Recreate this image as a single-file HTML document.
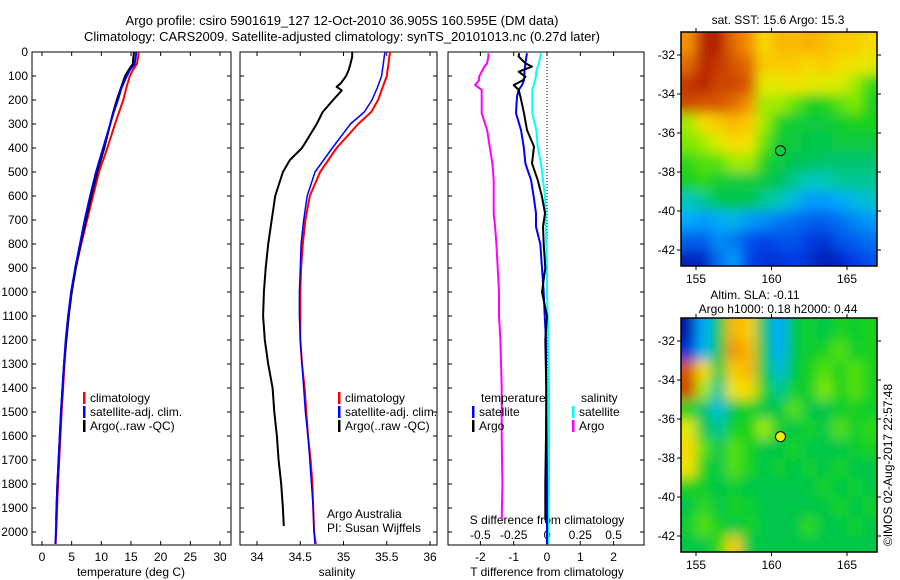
<!DOCTYPE html>
<html><head><meta charset="utf-8"><style>
html,body{margin:0;padding:0;background:#fff}
svg{display:block;font-family:"Liberation Sans",sans-serif;font-size:12px}
</style></head><body>
<svg id="c" width="900" height="580" viewBox="0 0 900 580">
<defs><filter id="bl" x="-0.1" y="-0.1" width="1.2" height="1.2"><feGaussianBlur stdDeviation="6"/></filter>
<clipPath id="cp1"><rect x="681" y="32" width="196" height="234"/></clipPath>
<clipPath id="cp2"><rect x="681" y="318" width="196" height="234"/></clipPath></defs>
<text x="342" y="25" text-anchor="middle" font-size="13">Argo profile: csiro 5901619_127 12-Oct-2010 36.905S 160.595E (DM data)</text>
<text x="342" y="41" text-anchor="middle" font-size="13">Climatology: CARS2009. Satellite-adjusted climatology: synTS_20101013.nc (0.27d later)</text>
</svg>
<script>
// ---- profile data ----
const depths=[0,20,50,75,100,150,200,250,300,400,500,600,700,800,900,1000,1100,1200,1300,1400,1500,1600,1700,1800,1900,2000,2050];
const tempClim=[16.3,16.2,16.0,15.3,14.8,14.2,13.7,13.0,12.3,11.0,9.6,8.6,7.6,6.6,5.7,5.0,4.5,4.1,3.8,3.55,3.3,3.1,2.9,2.7,2.55,2.4,2.3];
const tempSat=[15.9,15.8,15.6,14.8,14.3,13.4,12.8,12.1,11.5,10.3,9.1,8.1,7.2,6.4,5.6,4.9,4.4,4.0,3.7,3.45,3.2,3.0,2.8,2.6,2.45,2.35,2.25];
const argoTDepths=[0,20,50,75,100,150,200,250,300,400,500,600,700,800,900,1000,1100,1200,1300,1400,1500,1600,1700,1800,1900,1950];
const tempArgo=[15.5,15.4,15.3,14.6,14.0,13.3,12.6,12.0,11.5,10.5,9.3,8.3,7.4,6.5,5.7,5.0,4.5,4.1,3.7,3.45,3.2,3.0,2.8,2.6,2.45,2.4];
const salClim=[35.54,35.53,35.52,35.51,35.5,35.45,35.4,35.32,35.17,34.92,34.73,34.61,34.56,34.53,34.51,34.5,34.5,34.5,34.52,34.55,34.57,34.59,34.62,34.64,34.65,34.66,34.68];
const salSat=[35.48,35.47,35.46,35.45,35.44,35.39,35.33,35.24,35.08,34.87,34.67,34.58,34.54,34.51,34.5,34.49,34.49,34.5,34.52,34.54,34.56,34.59,34.61,34.63,34.65,34.66,34.67];
const argoSDepths=[0,20,50,75,100,130,145,160,200,250,300,400,450,500,600,700,800,900,1000,1100,1200,1300,1400,1500,1600,1700,1800,1900,1975];
const salArgo=[35.1,35.1,35.08,35.06,35.03,34.97,34.92,34.98,34.88,34.76,34.69,34.52,34.38,34.3,34.21,34.17,34.13,34.1,34.08,34.07,34.09,34.13,34.18,34.2,34.23,34.25,34.28,34.3,34.31];
const diffDepths=[5,19,47,61,82,103,117,138,158,186,255,325,394,464,533,603,672,728,800,900,1000,1100,1200,1400,1600,1800,2000,2050];
const dTSat=[-0.6,-0.62,-0.65,-0.66,-0.68,-0.68,-0.69,-0.75,-0.85,-0.9,-0.93,-0.78,-0.7,-0.65,-0.48,-0.4,-0.33,-0.33,-0.2,-0.15,-0.1,-0.07,-0.03,-0.02,-0.01,0,0,0];
const dSSat=[-0.045,-0.05,-0.06,-0.07,-0.08,-0.083,-0.09,-0.1,-0.11,-0.11,-0.11,-0.08,-0.07,-0.045,-0.03,-0.015,-0.01,-0.01,-0.005,0,0,0.005,0.01,0.015,0.015,0.015,0.01,0.01];
const argoDDepths=[5,19,47,61,82,103,117,138,158,186,255,325,394,464,533,603,672,728,800,900,1000,1100,1200,1400,1600,1800,1950];
const dTArgo=[-0.84,-0.85,-0.65,-0.45,-0.85,-0.65,-0.72,-1.0,-0.85,-0.8,-0.69,-0.6,-0.39,-0.45,-0.28,-0.15,-0.06,-0.12,-0.1,-0.05,-0.15,0.0,-0.05,-0.02,-0.03,-0.05,-0.05];
const dSArgo=[-0.44,-0.44,-0.45,-0.47,-0.49,-0.51,-0.51,-0.54,-0.49,-0.49,-0.49,-0.45,-0.43,-0.41,-0.4,-0.4,-0.4,-0.39,-0.38,-0.37,-0.36,-0.36,-0.35,-0.34,-0.34,-0.335,-0.34];
const depthTicks=[0,100,200,300,400,500,600,700,800,900,1000,1100,1200,1300,1400,1500,1600,1700,1800,1900,2000];
const tempTicks=[0,5,10,15,20,25,30];
const salTicks=[34,34.5,35,35.5,36];
const tDiffTicks=[-2,-1,0,1,2];
const sDiffTicks=[-0.5,-0.25,0,0.25,0.5];
// ---- map data (normalized colour index 0..1), rows lat -31.5..-42.5, cols lon 154.5..166.5 ----
const mapLons=[154.5,155.5,156.5,157.5,158.5,159.5,160.5,161.5,162.5,163.5,164.5,165.5,166.5];
const mapLats=[-31.5,-32.5,-33.5,-34.5,-35.5,-36.5,-37.5,-38.5,-39.5,-40.5,-41.5,-42.5];
const sstGrid=[
[0.8,0.95,0.95,0.85,0.8,0.7,0.75,0.74,0.76,0.74,0.72,0.72,0.7],
[0.85,0.95,0.92,0.88,0.85,0.72,0.72,0.72,0.7,0.72,0.7,0.68,0.65],
[0.92,0.95,0.9,0.9,0.88,0.66,0.66,0.68,0.66,0.65,0.64,0.6,0.52],
[0.9,0.88,0.88,0.85,0.8,0.6,0.6,0.56,0.5,0.5,0.55,0.58,0.5],
[0.6,0.7,0.72,0.75,0.72,0.6,0.5,0.47,0.46,0.46,0.48,0.5,0.5],
[0.58,0.6,0.65,0.7,0.68,0.56,0.47,0.46,0.45,0.45,0.46,0.46,0.46],
[0.52,0.55,0.55,0.6,0.6,0.5,0.46,0.44,0.43,0.42,0.42,0.42,0.42],
[0.5,0.52,0.48,0.46,0.46,0.46,0.43,0.4,0.38,0.38,0.4,0.4,0.4],
[0.38,0.4,0.44,0.44,0.44,0.4,0.38,0.33,0.28,0.28,0.3,0.33,0.36],
[0.3,0.28,0.3,0.33,0.28,0.26,0.23,0.22,0.2,0.2,0.22,0.25,0.28],
[0.2,0.2,0.26,0.23,0.18,0.16,0.18,0.18,0.15,0.12,0.18,0.2,0.22],
[0.08,0.1,0.22,0.28,0.16,0.13,0.13,0.15,0.12,0.07,0.1,0.15,0.18]];
const slaGrid=[
[0.05,0.3,0.45,0.75,0.72,0.42,0.3,0.45,0.48,0.45,0.5,0.48,0.5],
[0.12,0.32,0.45,0.8,0.75,0.45,0.3,0.45,0.48,0.5,0.55,0.48,0.5],
[0.88,0.7,0.45,0.72,0.75,0.45,0.35,0.45,0.5,0.55,0.5,0.55,0.5],
[0.9,0.6,0.4,0.68,0.7,0.5,0.4,0.48,0.48,0.58,0.5,0.55,0.5],
[0.5,0.42,0.35,0.45,0.5,0.45,0.45,0.55,0.45,0.45,0.48,0.5,0.48],
[0.65,0.45,0.4,0.5,0.5,0.6,0.48,0.45,0.5,0.45,0.55,0.48,0.52],
[0.7,0.55,0.45,0.55,0.5,0.45,0.45,0.5,0.45,0.45,0.45,0.48,0.5],
[0.68,0.5,0.45,0.55,0.5,0.45,0.48,0.45,0.48,0.45,0.5,0.45,0.45],
[0.5,0.48,0.45,0.48,0.45,0.45,0.45,0.45,0.45,0.5,0.45,0.48,0.45],
[0.45,0.52,0.45,0.5,0.48,0.45,0.45,0.45,0.45,0.45,0.5,0.45,0.48],
[0.48,0.55,0.5,0.45,0.5,0.45,0.45,0.45,0.52,0.45,0.45,0.48,0.45],
[0.45,0.45,0.52,0.72,0.45,0.45,0.45,0.45,0.45,0.45,0.45,0.45,0.45]];
const lonTicks=[155,160,165];
const latTicks=[-32,-34,-36,-38,-40,-42];
const argoLon=160.595, argoLat=-36.905;

const svg=document.getElementById('c');
const NS='http://www.w3.org/2000/svg';
function mk(tag,attrs,parent){const e=document.createElementNS(NS,tag);for(const k in attrs)e.setAttribute(k,attrs[k]);(parent||svg).appendChild(e);return e;}
function txt(x,y,s,anchor,parent){const t=mk('text',{x:x,y:y,'text-anchor':anchor||'middle'},parent);t.textContent=s;return t;}

const yTop=52,yBot=545;
const yD=d=>yTop+d*0.24;
const panels=[{l:32,r:231},{l:240,r:437},{l:448,r:644}];
const xT=v=>42+v*(178/30);
const xS=v=>257+(v-34)*86.5;
const xTD=v=>547+v*33.3;
const xSD=v=>547+v*133.2;

panels.forEach((p,i)=>{
  const g=mk('g',{});
  
  
  const fr=mk('rect',{x:p.l,y:yTop,width:p.r-p.l,height:yBot-yTop,fill:'none',stroke:'#000','stroke-width':1},g);
  
  
  depthTicks.forEach(d=>{
    mk('line',{x1:p.l,x2:p.l+4,y1:yD(d),y2:yD(d),stroke:'#000'},g);
    mk('line',{x1:p.r,x2:p.r-4,y1:yD(d),y2:yD(d),stroke:'#000'},g);
  });
});
depthTicks.forEach(d=>{
  const t=txt(28,yD(d)+4,String(d),'end');
  
  
});
function xTicks(ticks,fx,labelY){
  ticks.forEach(v=>{
    const x=fx(v);
    mk('line',{x1:x,x2:x,y1:yBot,y2:yBot-4,stroke:'#000'});
    mk('line',{x1:x,x2:x,y1:yTop,y2:yTop+4,stroke:'#000'});
    const t=txt(x,labelY,String(v));
    
    
  });
}
xTicks(tempTicks,xT,561);
xTicks(salTicks,xS,561);
xTicks(tDiffTicks,xTD,561);
sDiffTicks.forEach(v=>{
  const t=txt(xSD(v),539,String(v));
  
  
});
[[131,'temperature (deg C)','x-axis-title-temperature'],[337,'salinity','x-axis-title-salinity'],[547,'T difference from climatology','x-axis-title-t-diff']].forEach(a=>{
  const t=txt(a[0],576,a[1]);
  
  
});
const sdt=txt(547,524,'S difference from climatology');


const zl=mk('line',{x1:xTD(0),x2:xTD(0),y1:yTop,y2:yBot,stroke:'#000','stroke-dasharray':'1,2'});



function line(ds,vs,fx,color,name,w){
  const pts=ds.map((d,i)=>fx(vs[i]).toFixed(1)+','+yD(d).toFixed(1)).join(' ');
  const pl=mk('polyline',{points:pts,fill:'none',stroke:color,'stroke-width':w||2,'stroke-linejoin':'round'});
  
  
}
line(depths,tempClim,xT,'#f00','temp-climatology-line');
line(argoTDepths,tempArgo,xT,'#000','temp-argo-line');
line(depths,tempSat,xT,'#00f','temp-satellite-line');
line(depths,salClim,xS,'#f00','sal-climatology-line');
line(depths,salSat,xS,'#00f','sal-satellite-line',1.5);
line(argoSDepths,salArgo,xS,'#000','sal-argo-line');
line(argoDDepths,dSArgo,xSD,'#f0f','s-diff-argo-line');
line(diffDepths,dSSat,xSD,'#0ff','s-diff-satellite-line');
line(diffDepths,dTSat,xTD,'#00f','t-diff-satellite-line');
line(argoDDepths,dTArgo,xTD,'#000','t-diff-argo-line');

function legEntry(x,y,color,label){
  const g=mk('g',{});
  
  
  mk('rect',{x:x,y:y-10,width:2.5,height:12,fill:color},g);
  txt(x+7,y,label,'start',g);
}
[[83],[338]].forEach(a=>{
  legEntry(a[0],402,'#f00','climatology');
  legEntry(a[0],416,'#00f','satellite-adj. clim.');
  legEntry(a[0],430,'#000','Argo(..raw -QC)');
});
const lt1=txt(481,402,'temperature','start');
const lt2=txt(581,402,'salinity','start');
legEntry(472,416,'#00f','satellite');
legEntry(472,430,'#000','Argo');
legEntry(572,416,'#0ff','satellite');
legEntry(572,430,'#f0f','Argo');
const aa=txt(327,518,'Argo Australia','start');
const pi=txt(327,532,'PI: Susan Wijffels','start');

const stops=[[0,[0,0,140]],[0.15,[0,60,230]],[0.3,[0,170,255]],[0.38,[0,200,190]],[0.43,[0,195,90]],[0.5,[20,210,30]],[0.57,[110,230,0]],[0.63,[210,240,0]],[0.69,[248,225,0]],[0.78,[250,160,0]],[0.88,[215,85,0]],[1,[160,0,0]]];
function cmap(v){
  v=Math.max(0,Math.min(1,v));
  for(let i=1;i<stops.length;i++){if(v<=stops[i][0]){const a=stops[i-1],b=stops[i];const f=(v-a[0])/(b[0]-a[0]);return 'rgb('+a[1].map((c,k)=>Math.round(c+(b[1][k]-c)*f)).join(',')+')';}}
  return 'rgb(160,0,0)';
}
function drawMap(top,bot,grid,clip,name,dotFill){
  const L=681,R=877;
  const xLon=lon=>696+(lon-155)*15.1;
  const yLat=lat=>top+23+(-32-lat)*(bot-top-39)/10;
  const g=mk('g',{'clip-path':'url(#'+clip+')'});
  
  
  const inner=mk('g',{filter:'url(#bl)'},g);
  mapLats.forEach((lat,r)=>mapLons.forEach((lon,c)=>{
    const x0=xLon(lon-0.5),x1=xLon(lon+0.5),y0=yLat(lat+0.5),y1=yLat(lat-0.5);
    const ex=(c===0?-15:0), ex2=(c===mapLons.length-1?15:0), ey=(r===0?-15:0), ey2=(r===mapLats.length-1?15:0);
    const cell=mk('rect',{x:x0+ex,y:y0+ey,width:x1-x0-ex+ex2+0.6,height:y1-y0-ey+ey2+0.6,fill:cmap(grid[r][c])},inner);
    
    
  }));
  const fr=mk('rect',{x:L,y:top,width:R-L,height:bot-top,fill:'none',stroke:'#000','stroke-width':1.5});
  
  
  lonTicks.forEach(v=>{
    const x=xLon(v);
    mk('line',{x1:x,x2:x,y1:top,y2:top-4,stroke:'#000'});
    mk('line',{x1:x,x2:x,y1:bot,y2:bot+4,stroke:'#000'});
    const t=txt(x,bot+17,String(v));
    
    
  });
  latTicks.forEach(v=>{
    const y=yLat(v);
    mk('line',{x1:L,x2:L-4,y1:y,y2:y,stroke:'#000'});
    mk('line',{x1:R,x2:R+4,y1:y,y2:y,stroke:'#000'});
    const t=txt(675,y+4,String(v),'end');
    
    
  });
  const dot=mk('circle',{cx:xLon(argoLon),cy:yLat(argoLat),r:5,fill:dotFill,stroke:'#000','stroke-width':1});
  
  
}
drawMap(32,266,sstGrid,'cp1','sst-map','none');
drawMap(318,552,slaGrid,'cp2','sla-map','#ee0');
const m1=txt(778,24,'sat. SST: 15.6 Argo: 15.3');
const m2=txt(755,299,'Altim. SLA: -0.11');
const m3=txt(778,313,'Argo h1000: 0.18 h2000: 0.44');
const cr=mk('text',{x:892,y:465,'text-anchor':'middle',transform:'rotate(-90 892 465)'});
cr.textContent='©IMOS 02-Aug-2017 22:57:48';


</script>
</body></html>
